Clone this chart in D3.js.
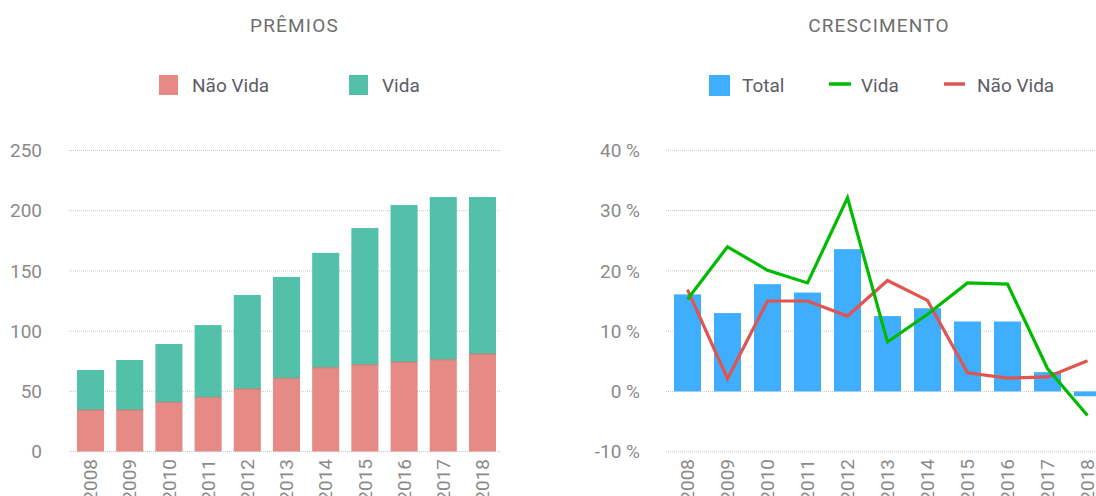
<!DOCTYPE html>
<html><head><meta charset="utf-8">
<script src="https://cdn.jsdelivr.net/npm/d3@7"></script>
<style>
body{margin:0;background:#fff;}
svg{display:block;font-family:Roboto,"Noto Sans",sans-serif;}
</style></head><body>
<svg id="c" width="1096" height="496"></svg>
<script>
const years = ["2008","2009","2010","2011","2012","2013","2014","2015","2016","2017","2018"];
const naoVida = [34.5,34.5,41,45,52,60.8,69.6,72,74.3,76.2,81];
const vida = [33.2,41.5,48.3,60,78,84.2,95.4,113.6,130.4,135.2,130.4];
const leftTicks = [0,50,100,150,200,250];
const crescTotal = [16.1,13.0,17.8,16.4,23.6,12.5,13.8,11.6,11.6,3.2,-0.8];
const crescVida = [15.3,24.0,20.1,18.0,32.1,8.2,12.8,18.0,17.8,3.8,-4.0];
const crescNaoVida = [16.9,2.1,15.0,15.0,12.5,18.4,15.1,3.1,2.2,2.4,5.1];
const rightTicks = [-10,0,10,20,30,40];

const colNV = "#E58A84", colV = "#53C1A9", colT = "#3FAEFF", colLV = "#00BB00", colLNV = "#E0554F";
const svg = d3.select("#c");
const fs = 19;

// ---------- LEFT ----------
const L = svg.append("g");
const xL = d3.scaleBand().domain(years).range([69, 504]).paddingInner(0.31).paddingOuter(0.204);
const yL = d3.scaleLinear().domain([0,250]).range([451.5,150.5]);
L.selectAll("line.g").data(leftTicks).join("line")
  .attr("x1",69).attr("x2",500).attr("y1",d=>yL(d)).attr("y2",d=>yL(d))
  .attr("stroke","#c8c8c8").attr("stroke-dasharray","1,1");
L.selectAll("text.yt").data(leftTicks).join("text")
  .attr("x",42).attr("y",d=>yL(d)).attr("dy","0.35em").attr("text-anchor","end")
  .attr("font-size",fs).attr("fill","#8a8a8a").text(d=>d);
const stack = years.map((y,i)=>({y, nv:naoVida[i], v:vida[i]}));
L.selectAll("rect.v").data(stack).join("rect")
  .attr("x",d=>xL(d.y)).attr("width",xL.bandwidth())
  .attr("y",d=>yL(d.nv+d.v)).attr("height",d=>yL(d.nv)-yL(d.nv+d.v)).attr("fill",colV);
L.selectAll("rect.nv").data(stack).join("rect")
  .attr("x",d=>xL(d.y)).attr("width",xL.bandwidth())
  .attr("y",d=>yL(d.nv)).attr("height",d=>yL(0)-yL(d.nv)).attr("fill",colNV);
L.selectAll("rect.sep").data(stack).join("rect")
  .attr("x",d=>xL(d.y)).attr("width",xL.bandwidth())
  .attr("y",d=>yL(d.nv)-0.5).attr("height",1).attr("fill","#b87a6a").attr("opacity",0.8);
L.selectAll("text.xt").data(years).join("text")
  .attr("transform",d=>`translate(${xL(d)+xL.bandwidth()/2},459) rotate(-90)`)
  .attr("dy","0.35em").attr("text-anchor","end")
  .attr("font-size",fs).attr("fill","#8a8a8a").text(d=>d);
svg.append("text").attr("x",294.5).attr("y",32).attr("text-anchor","middle")
  .attr("font-size",fs).attr("letter-spacing","1.2px").attr("fill","#6e6e6e").text("PRÊMIOS");
// legend left
const legL = [{t:"Não Vida",c:colNV,x:159},{t:"Vida",c:colV,x:349}];
legL.forEach(d=>{
  svg.append("rect").attr("x",d.x).attr("y",75).attr("width",19).attr("height",20).attr("fill",d.c);
  svg.append("text").attr("x",d.x+33).attr("y",92).attr("font-size",fs).attr("fill","#5c5c66").text(d.t);
});

// ---------- RIGHT ----------
const R = svg.append("g");
const xR = d3.scaleBand().domain(years).range([666,1109]).paddingInner(0.325).paddingOuter(0.2);
const yR = d3.scaleLinear().domain([-10,40]).range([451.7,150.3]);
R.selectAll("line.g").data(rightTicks).join("line")
  .attr("x1",666).attr("x2",1096).attr("y1",d=>yR(d)).attr("y2",d=>yR(d))
  .attr("stroke","#c8c8c8").attr("stroke-dasharray","1,1");
R.selectAll("text.yt").data(rightTicks).join("text")
  .attr("x",640).attr("y",d=>yR(d)).attr("dy","0.35em").attr("text-anchor","end")
  .attr("font-size",fs).attr("fill","#8a8a8a").text(d=>d+" %");
R.selectAll("rect.t").data(crescTotal).join("rect")
  .attr("x",(d,i)=>xR(years[i])).attr("width",xR.bandwidth())
  .attr("y",d=>yR(Math.max(0,d))).attr("height",d=>Math.abs(yR(d)-yR(0))).attr("fill",colT);
const cx = (d,i)=>xR(years[i])+xR.bandwidth()/2;
const line = d3.line().x(cx).y(d=>yR(d));
R.append("path").datum(crescNaoVida).attr("d",line).attr("fill","none")
  .attr("stroke",colLNV).attr("stroke-width",3.2);
R.append("path").datum(crescVida).attr("d",line).attr("fill","none")
  .attr("stroke",colLV).attr("stroke-width",3.2);
R.selectAll("text.xt").data(years).join("text")
  .attr("transform",d=>`translate(${xR(d)+xR.bandwidth()/2},459) rotate(-90)`)
  .attr("dy","0.35em").attr("text-anchor","end")
  .attr("font-size",fs).attr("fill","#8a8a8a").text(d=>d);
svg.append("text").attr("x",879).attr("y",32).attr("text-anchor","middle")
  .attr("font-size",fs).attr("letter-spacing","1.2px").attr("fill","#6e6e6e").text("CRESCIMENTO");
svg.append("rect").attr("x",709).attr("y",75).attr("width",21).attr("height",21).attr("fill",colT);
svg.append("text").attr("x",742).attr("y",92).attr("font-size",fs).attr("fill","#5c5c66").text("Total");
svg.append("line").attr("x1",829).attr("x2",851).attr("y1",84).attr("y2",84).attr("stroke",colLV).attr("stroke-width",3.5);
svg.append("text").attr("x",861).attr("y",92).attr("font-size",fs).attr("fill","#5c5c66").text("Vida");
svg.append("line").attr("x1",944).attr("x2",965).attr("y1",84).attr("y2",84).attr("stroke",colLNV).attr("stroke-width",3.5);
svg.append("text").attr("x",977).attr("y",92).attr("font-size",fs).attr("fill","#5c5c66").text("Não Vida");
</script></body></html>
